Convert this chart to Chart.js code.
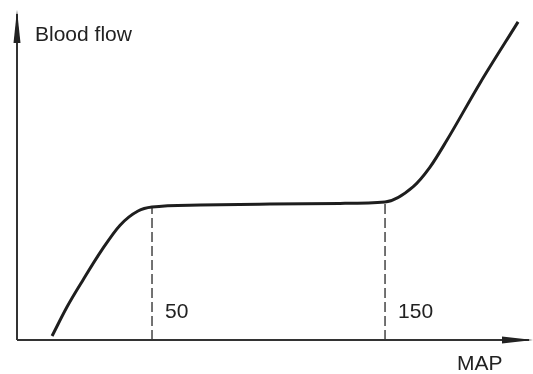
<!DOCTYPE html>
<html>
<head>
<meta charset="utf-8">
<script src="https://cdn.jsdelivr.net/npm/chart.js@4.4.1/dist/chart.umd.min.js"></script>
<style>
  body { margin: 0; background: #fff; }
  #wrap { width: 533px; height: 374px; }
</style>
</head>
<body>
<div id="wrap"><canvas id="flowChart" width="533" height="374"></canvas></div>
<script>
// autoregulation curve (MAP units, arbitrary flow units)
const mapValues = [7.1, 13.5, 20.4, 28.5, 36.3, 44.0, 50, 70.6, 100.6, 130.7, 150, 162.0, 169.3, 176.6, 190.8, 207.1];
const flowValues = [1.2, 10.0, 18.2, 27.3, 34.8, 39.1, 40.3, 40.9, 41.2, 41.4, 41.8, 46.4, 52.4, 60.6, 77.9, 96.4];

// plateau limits marked with dashed lines
const limitMap = [50, 150];
const limitFlow = [40.3, 41.8];
const limitLabels = ['50', '150'];

const xTitle = 'MAP';
const yTitle = 'Blood flow';

const curvePoints = mapValues.map((m, i) => ({ x: m, y: flowValues[i] }));

const datasets = [{
    data: curvePoints,
    borderColor: '#1e1e1e',
    borderWidth: 3,
    pointRadius: 0,
    cubicInterpolationMode: 'monotone',
    fill: false
}];

limitMap.forEach((m, i) => {
    datasets.push({
        data: [{ x: m, y: 0 }, { x: m, y: limitFlow[i] }],
        borderColor: '#444',
        borderWidth: 1.5,
        borderDash: [10, 4],
        pointRadius: 0,
        fill: false
    });
});

// axes with arrow heads and the text labels
const axesPlugin = {
    id: 'axesPlugin',
    afterDatasetsDraw(chart) {
        const ctx = chart.ctx;
        const x = chart.scales.x;
        const y = chart.scales.y;
        const x0 = chart.chartArea.left;
        const y0 = y.getPixelForValue(0);
        const top = chart.chartArea.top;
        const right = chart.chartArea.right;

        ctx.save();
        ctx.strokeStyle = '#333';
        ctx.fillStyle = '#222';
        ctx.lineWidth = 2;
        ctx.beginPath();
        ctx.moveTo(x0, y0);
        ctx.lineTo(x0, top + 4);
        ctx.moveTo(x0, y0);
        ctx.lineTo(right - 4, y0);
        ctx.stroke();

        // arrow heads
        ctx.beginPath();
        ctx.moveTo(x0, top);
        ctx.lineTo(x0 - 3.5, top + 33);
        ctx.lineTo(x0 + 3.5, top + 33);
        ctx.closePath();
        ctx.fill();
        ctx.beginPath();
        ctx.moveTo(right, y0);
        ctx.lineTo(right - 31, y0 - 3.5);
        ctx.lineTo(right - 31, y0 + 3.5);
        ctx.closePath();
        ctx.fill();

        ctx.fillStyle = '#222';
        ctx.font = '21px "Liberation Sans", Arial, sans-serif';
        ctx.textBaseline = 'middle';
        ctx.textAlign = 'left';
        ctx.fillText(yTitle, x0 + 18, top + 25);
        ctx.fillText(xTitle, 457, y0 + 24);
        limitMap.forEach((m, i) => {
            ctx.fillText(limitLabels[i], x.getPixelForValue(m) + 13, y0 - 28);
        });
        ctx.restore();
    }
};

new Chart(document.getElementById('flowChart'), {
    type: 'line',
    data: { datasets: datasets },
    options: {
        responsive: false,
        animation: false,
        layout: { padding: { left: 17, right: 0, top: 10, bottom: 34 } },
        plugins: { legend: { display: false }, tooltip: { enabled: false } },
        scales: {
            x: { type: 'linear', min: -7.94, max: 213.5, display: false },
            y: { type: 'linear', min: 0, max: 100, display: false }
        }
    },
    plugins: [axesPlugin]
});
</script>
</body>
</html>
